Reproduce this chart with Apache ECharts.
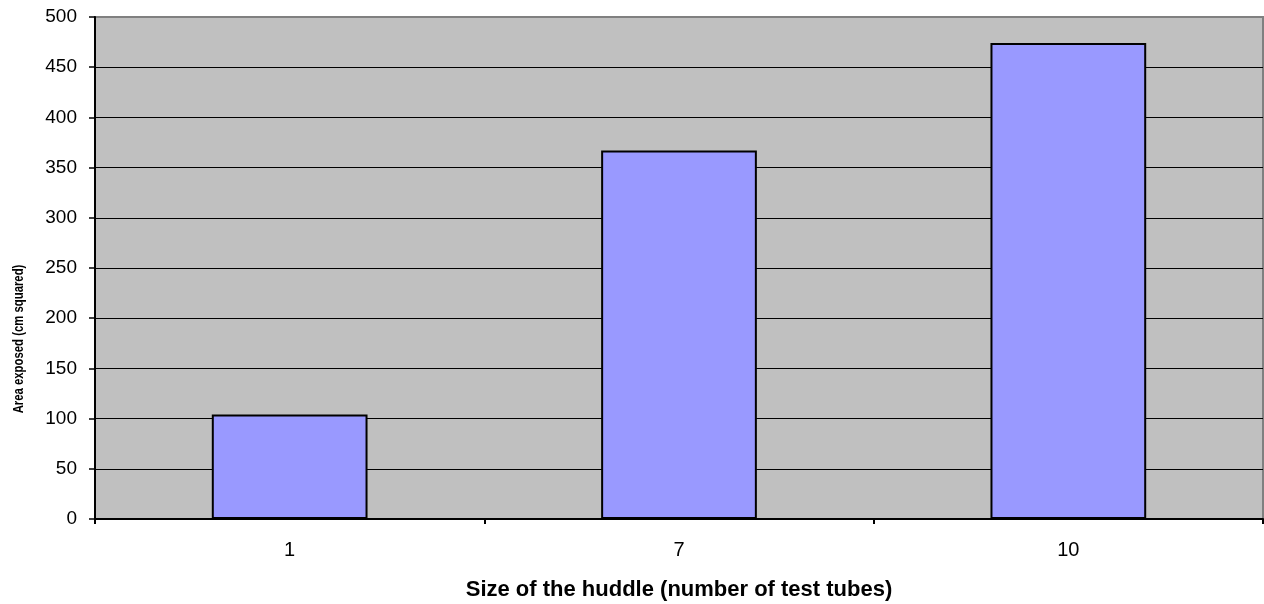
<!DOCTYPE html>
<html>
<head>
<meta charset="utf-8">
<script src="https://cdn.jsdelivr.net/npm/echarts@6/dist/echarts.min.js"></script>
<style>html,body{margin:0;padding:0;background:#fff}#c{width:1264px;height:604px}</style>
</head>
<body>
<div id="c"></div>
<script>
const categories = ['1', '7', '10'];
const values = [104, 367, 474];
const yTicks = [0, 50, 100, 150, 200, 250, 300, 350, 400, 450, 500];
const xTitle = 'Size of the huddle (number of test tubes)';
const yTitle = 'Area exposed (cm squared)';

const splitColors = yTicks.map((v, i) => i === yTicks.length - 1 ? '#808080' : '#000000');

const chart = echarts.init(document.getElementById('c'), null, {renderer: 'canvas'});
chart.setOption({
  animation: false,
  backgroundColor: '#ffffff',
  grid: {
    left: 95, right: 1, top: 17, bottom: 85,
    outerBoundsMode: 'none',
    containLabel: false,
    show: true, backgroundColor: '#c0c0c0', borderColor: '#808080', borderWidth: 2
  },
  xAxis: {
    type: 'category',
    data: categories,
    name: xTitle,
    nameLocation: 'middle',
    nameGap: 60,
    nameTextStyle: {fontFamily: 'Liberation Sans', fontSize: 22, fontWeight: 'bold', color: '#000'},
    axisLine: {lineStyle: {color: '#000', width: 2}},
    axisTick: {show: true, alignWithLabel: false, length: 5, lineStyle: {color: '#000', width: 2}},
    axisLabel: {fontFamily: 'Liberation Sans', fontSize: 20, color: '#000', margin: 21},
    splitLine: {show: false}
  },
  yAxis: {
    type: 'value',
    min: yTicks[0], max: yTicks[yTicks.length - 1], interval: 50,
    axisLine: {show: true, lineStyle: {color: '#000', width: 2}},
    axisTick: {show: true, length: 6, lineStyle: {color: '#000', width: 1.5}},
    axisLabel: {fontFamily: 'Liberation Sans', fontSize: 19, color: '#000', margin: 18},
    splitLine: {show: true, lineStyle: {color: splitColors, width: 1}}
  },
  graphic: [{
    type: 'text',
    x: 19, y: 339,
    rotation: Math.PI / 2,
    scaleX: 0.81,
    style: {
      text: yTitle,
      font: 'bold 14px "Liberation Sans"',
      fill: '#000',
      textAlign: 'center',
      textVerticalAlign: 'middle'
    }
  }],
  series: [{
    type: 'bar',
    data: values,
    barWidth: '40%',
    itemStyle: {color: '#9999ff', borderColor: '#000', borderWidth: 2}
  }]
});
</script>
</body>
</html>
